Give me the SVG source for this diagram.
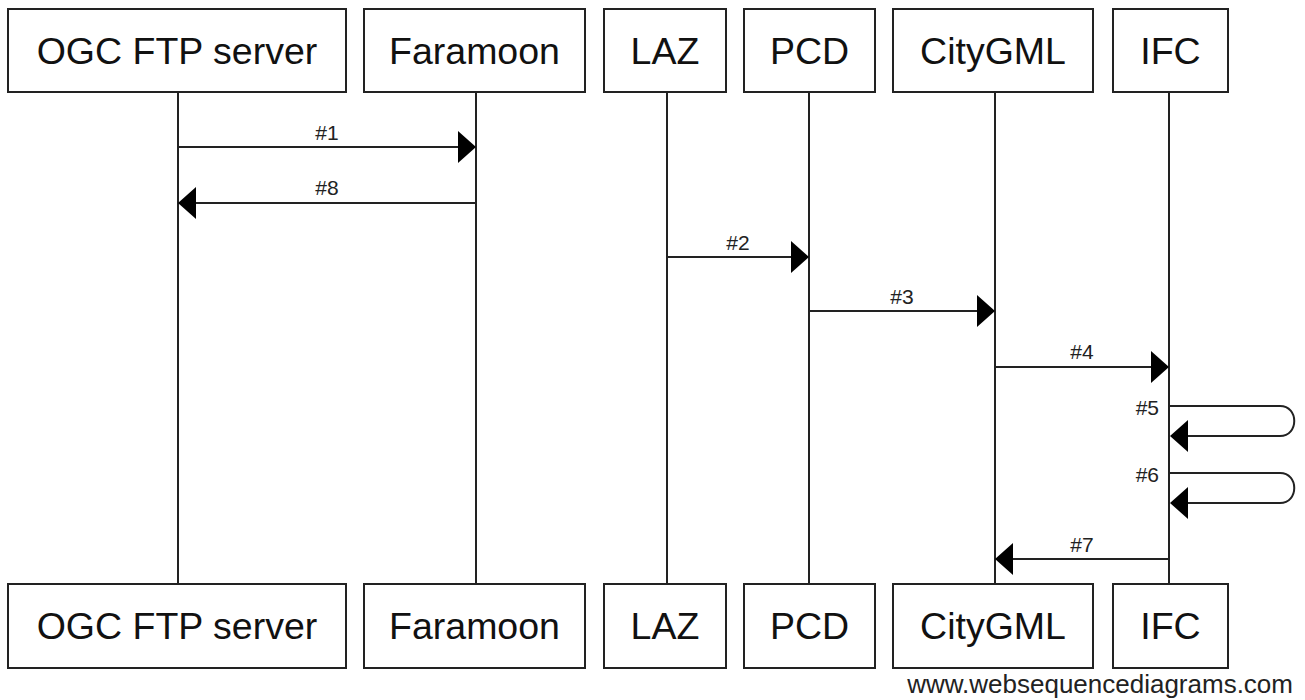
<svg xmlns="http://www.w3.org/2000/svg" width="1305" height="700" viewBox="0 0 1305 700">
<style>
.box{fill:#fff;stroke:#222;stroke-width:2}
.name{font-family:"Liberation Sans",Arial,sans-serif;font-size:37.5px;fill:#111;text-anchor:middle}
.life{stroke:#222;stroke-width:2;fill:none}
.msg{stroke:#222;stroke-width:2;fill:none}
.head{fill:#000}
.lbl{font-family:"Liberation Sans",Arial,sans-serif;font-size:21px;fill:#222;text-anchor:middle}
.lblr{font-family:"Liberation Sans",Arial,sans-serif;font-size:21px;fill:#222;text-anchor:end}
.wm{font-family:"Liberation Sans",Arial,sans-serif;font-size:26px;fill:#222;text-anchor:end}
</style>
<rect width="1305" height="700" fill="#fff"/>
<g id="lifelines">
<line class="life" x1="178" y1="92" x2="178" y2="584"/>
<line class="life" x1="476" y1="92" x2="476" y2="584"/>
<line class="life" x1="667" y1="92" x2="667" y2="584"/>
<line class="life" x1="809" y1="92" x2="809" y2="584"/>
<line class="life" x1="995" y1="92" x2="995" y2="584"/>
<line class="life" x1="1169" y1="92" x2="1169" y2="584"/>
</g>
<g id="node-ogc">
<rect class="box" x="8" y="9" width="338" height="83"/>
<text class="name" x="177" y="64">OGC FTP server</text>
<rect class="box" x="8" y="584" width="338" height="84"/>
<text class="name" x="177" y="639">OGC FTP server</text>
</g>
<g id="node-faramoon">
<rect class="box" x="364" y="9" width="221" height="83"/>
<text class="name" x="474.5" y="64">Faramoon</text>
<rect class="box" x="364" y="584" width="221" height="84"/>
<text class="name" x="474.5" y="639">Faramoon</text>
</g>
<g id="node-laz">
<rect class="box" x="604" y="9" width="122" height="83"/>
<text class="name" x="665" y="64">LAZ</text>
<rect class="box" x="604" y="584" width="122" height="84"/>
<text class="name" x="665" y="639">LAZ</text>
</g>
<g id="node-pcd">
<rect class="box" x="744" y="9" width="131" height="83"/>
<text class="name" x="809.5" y="64">PCD</text>
<rect class="box" x="744" y="584" width="131" height="84"/>
<text class="name" x="809.5" y="639">PCD</text>
</g>
<g id="node-citygml">
<rect class="box" x="893" y="9" width="200" height="83"/>
<text class="name" x="993" y="64">CityGML</text>
<rect class="box" x="893" y="584" width="200" height="84"/>
<text class="name" x="993" y="639">CityGML</text>
</g>
<g id="node-ifc">
<rect class="box" x="1113" y="9" width="115" height="83"/>
<text class="name" x="1170.5" y="64">IFC</text>
<rect class="box" x="1113" y="584" width="115" height="84"/>
<text class="name" x="1170.5" y="639">IFC</text>
</g>
<g id="connectors">
<line class="msg" x1="178" y1="147" x2="460" y2="147"/>
<polygon class="head" points="476,147 458,131 458,163"/>
<text class="lbl" x="327" y="140">#1</text>

<line class="msg" x1="476" y1="203" x2="194" y2="203"/>
<polygon class="head" points="178,203 196,187 196,219"/>
<text class="lbl" x="327" y="195">#8</text>

<line class="msg" x1="667" y1="257" x2="793" y2="257"/>
<polygon class="head" points="809,257 791,241 791,273"/>
<text class="lbl" x="738" y="250">#2</text>

<line class="msg" x1="809" y1="311" x2="979" y2="311"/>
<polygon class="head" points="995,311 977,295 977,327"/>
<text class="lbl" x="902" y="304">#3</text>

<line class="msg" x1="995" y1="367" x2="1153" y2="367"/>
<polygon class="head" points="1169,367 1151,351 1151,383"/>
<text class="lbl" x="1082" y="359">#4</text>

<path class="msg" d="M1169,406 H1280 C1299,406 1299,436 1280,436 H1185"/>
<polygon class="head" points="1170,436 1188,420 1188,452"/>
<text class="lblr" x="1159" y="415">#5</text>

<path class="msg" d="M1169,473 H1280 C1299,473 1299,503 1280,503 H1185"/>
<polygon class="head" points="1170,503 1188,487 1188,519"/>
<text class="lblr" x="1159" y="482">#6</text>

<line class="msg" x1="1169" y1="559" x2="1011" y2="559"/>
<polygon class="head" points="995,559 1013,543 1013,575"/>
<text class="lbl" x="1082" y="552">#7</text>
</g>
<text class="wm" x="1293" y="693">www.websequencediagrams.com</text>
</svg>
